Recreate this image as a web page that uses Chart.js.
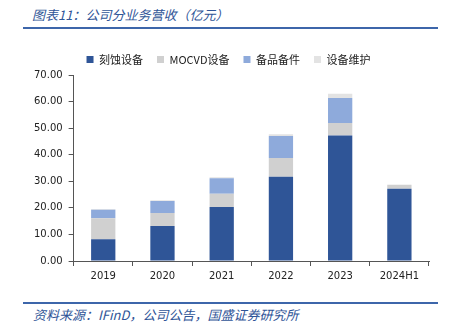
<!DOCTYPE html>
<html>
<head>
<meta charset="utf-8">
<script src="https://cdn.jsdelivr.net/npm/chart.js@4"></script>
<style>
  body { margin: 0; width: 451px; height: 328px; background: #fff; position: relative; overflow: hidden; }
  .titulo { position: absolute; left: 32px; top: 5px; font: italic 13px "Noto Sans CJK SC", sans-serif; color: #2f5597; }
  .linha { position: absolute; left: 23px; width: 415px; height: 2px; background: #3d66aa; }
  .fonte { position: absolute; left: 33px; top: 305px; font: italic 13px "Noto Sans CJK SC", sans-serif; color: #2f5597; }
  #grafico { position: absolute; left: 0; top: 40px; }
</style>
</head>
<body>
<div class="titulo">图表11：公司分业务营收（亿元）</div>
<div class="linha" style="top:27px"></div>
<canvas id="grafico" width="451" height="252"></canvas>
<div class="linha" style="top:302px"></div>
<div class="fonte">资料来源：IFinD，公司公告，国盛证券研究所</div>
<script>
// categorias e séries (亿元)
const anos = ['2019', '2020', '2021', '2022', '2023', '2024H1'];
const nomesSeries = ['刻蚀设备', 'MOCVD设备', '备品备件', '设备维护'];
const gravacao = [8.2, 13.2, 20.3, 31.7, 47.2, 27.2];
const mocvd = [7.9, 4.9, 5.0, 7.1, 4.7, 1.5];
const pecas = [3.2, 4.5, 5.8, 8.2, 9.4, 0];
const manutencao = [0.3, 0.3, 0.4, 0.7, 1.6, 0];
const ticksY = [0, 10, 20, 30, 40, 50, 60, 70];

const cores = ['#2f5597', '#d0d0d0', '#8eaadb', '#e3e3e3'];
const valores = [gravacao, mocvd, pecas, manutencao];

const ctx = document.getElementById('grafico').getContext('2d');
new Chart(ctx, {
    type: 'bar',
    data: {
        labels: anos,
        datasets: nomesSeries.map((nome, i) => ({
            label: nome,
            data: valores[i],
            backgroundColor: cores[i],
            borderWidth: 0,
            barPercentage: 0.41,
            categoryPercentage: 1
        }))
    },
    options: {
        responsive: false,
        animation: false,
        layout: { padding: { left: 28, right: 22, top: 0, bottom: 6 } },
        plugins: {
            legend: {
                position: 'top',
                labels: {
                    boxWidth: 7,
                    boxHeight: 7,
                    padding: 14,
                    color: '#222',
                    font: { family: '"Noto Sans CJK SC", "DejaVu Sans"', size: 11 }
                }
            },
            tooltip: { enabled: false }
        },
        scales: {
            x: {
                stacked: true,
                grid: { display: true, drawOnChartArea: false, tickLength: 5, color: '#555' },
                border: { color: '#555' },
                ticks: { color: '#222', font: { family: '"DejaVu Sans"', size: 10 }, padding: 4 }
            },
            y: {
                stacked: true,
                min: 0,
                max: 70,
                afterBuildTicks: axis => { axis.ticks = ticksY.map(v => ({ value: v })); },
                grid: { display: true, drawOnChartArea: false, tickLength: 5, color: '#555' },
                border: { color: '#555' },
                ticks: {
                    color: '#222',
                    font: { family: '"DejaVu Sans"', size: 10 },
                    padding: 6,
                    callback: v => Number(v).toFixed(2)
                }
            }
        }
    }
});
</script>
</body>
</html>
